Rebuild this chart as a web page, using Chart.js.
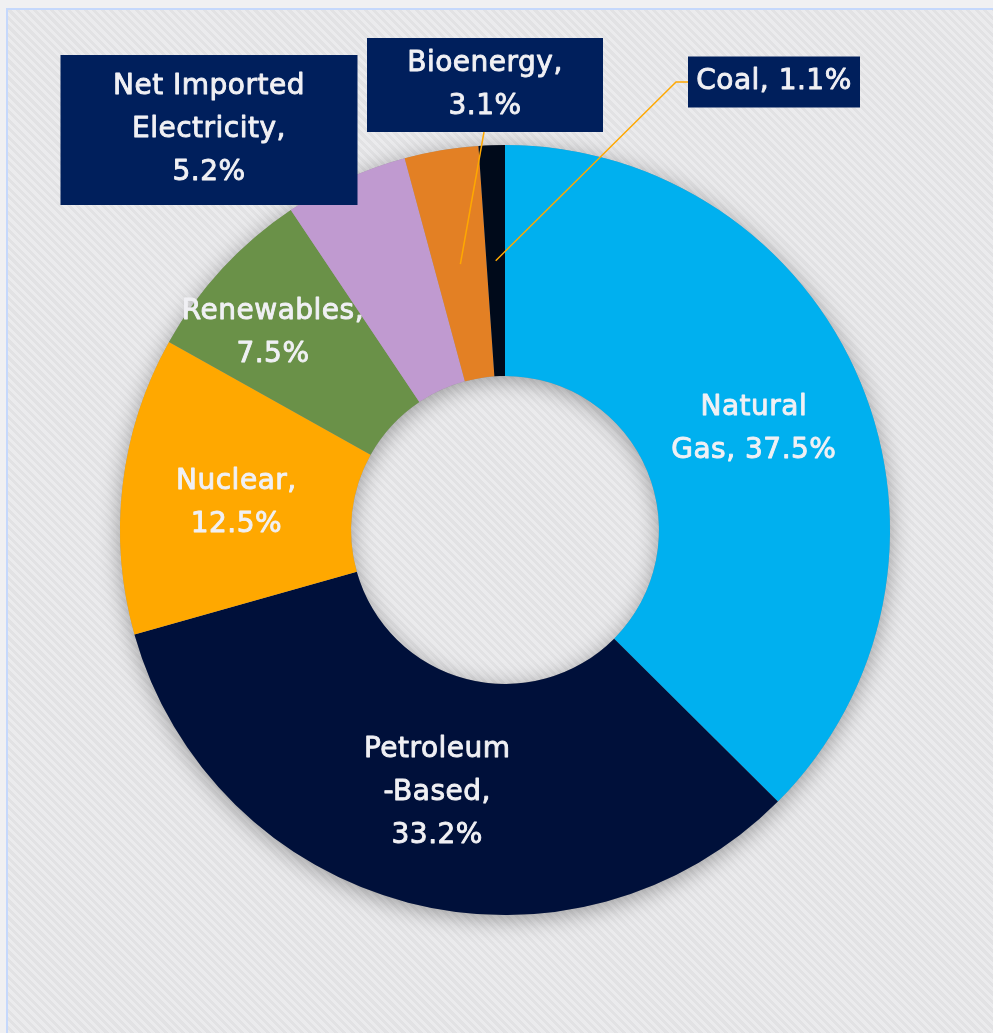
<!DOCTYPE html>
<html>
<head>
<meta charset="utf-8">
<script src="https://cdn.jsdelivr.net/npm/chart.js@4.4.0/dist/chart.umd.min.js"></script>
<style>
  html, body { margin: 0; padding: 0; background: #f0f0f2; overflow: hidden; }
  .panel {
    position: absolute; left: 6px; top: 8px; width: 1100px; height: 1100px;
    border: 2px solid #c5d8fc;
    background: repeating-linear-gradient(45deg, #ebebed 0px, #ebebed 3px, #e2e2e4 3px, #e2e2e4 6px);
  }
  #wrap { position: absolute; left: 0; top: 0; width: 993px; height: 1033px; }
</style>
</head>
<body>
<div class="panel"></div>
<div id="wrap"><canvas id="energyChart"></canvas></div>
<script>
const categories = ['Natural Gas', 'Petroleum-Based', 'Nuclear', 'Renewables', 'Net Imported Electricity', 'Bioenergy', 'Coal'];
const shares = [37.5, 33.2, 12.5, 7.5, 5.2, 3.1, 1.1];
const sliceColors = ['#00b0ef', '#00103a', '#ffa800', '#6a9148', '#c09ad0', '#e38024', '#000a1a'];
// label lines as shown in the picture
const labelLines = [
  ['Natural', 'Gas, 37.5%'],
  ['Petroleum', '-Based,', '33.2%'],
  ['Nuclear,', '12.5%'],
  ['Renewables,', '7.5%'],
  ['Net Imported', 'Electricity,', '5.2%'],
  ['Bioenergy,', '3.1%'],
  ['Coal, 1.1%']
];

const FONT = '28px "DejaVu Sans", sans-serif';
const TEXT = '#f0f0f4';
const LINE_H = 43;

// inside labels: nudge from slice centre; callouts: box relative to chart centre
const inside = { 0: [0, 3], 1: [0, 2], 2: [-1, 5], 3: [-34, -14] };
const callouts = {
  4: { cx: -296, cy: -400, w: 297, h: 150 },
  5: { cx: -20, cy: -445, w: 236, h: 94, leader: [[-21, -398]] },
  6: { cx: 269, cy: -448, w: 172, h: 51, leader: [[183, -448], [171, -448]] }
};

const ringShadow = {
  id: 'ringShadow',
  beforeDatasetsDraw(chart) {
    const arc = chart.getDatasetMeta(0).data[0];
    if (!arc) return;
    const ctx = chart.ctx;
    ctx.save();
    ctx.shadowColor = 'rgba(0,0,0,0.35)';
    ctx.shadowBlur = 22;
    ctx.shadowOffsetY = 4;
    ctx.fillStyle = '#9a9a9a';
    ctx.beginPath();
    ctx.arc(arc.x, arc.y, arc.outerRadius, 0, Math.PI * 2);
    ctx.arc(arc.x, arc.y, arc.innerRadius, 0, Math.PI * 2, true);
    ctx.fill();
    ctx.restore();
  }
};

const sliceLabels = {
  id: 'sliceLabels',
  afterDatasetsDraw(chart) {
    const ctx = chart.ctx;
    const arcs = chart.getDatasetMeta(0).data;
    const cx = arcs[0].x, cy = arcs[0].y;
    ctx.save();
    ctx.font = FONT;
    ctx.letterSpacing = '0.5px';
    ctx.textAlign = 'center';
    ctx.textBaseline = 'middle';
    ctx.lineJoin = 'round';
    arcs.forEach((arc, i) => {
      const lines = labelLines[i];
      let x, y;
      if (inside[i]) {
        const p = arc.getCenterPoint();
        x = p.x + inside[i][0];
        y = p.y + inside[i][1];
      } else {
        const c = callouts[i];
        x = cx + c.cx;
        y = cy + c.cy;
        if (c.leader) {
          const p = arc.getCenterPoint();
          ctx.strokeStyle = '#ffa800';
          ctx.lineWidth = 1.5;
          ctx.beginPath();
          ctx.moveTo(cx + c.leader[0][0], cy + c.leader[0][1]);
          c.leader.slice(1).forEach(pt => ctx.lineTo(cx + pt[0], cy + pt[1]));
          ctx.lineTo(p.x, p.y);
          ctx.stroke();
        }
        ctx.fillStyle = '#001f5c';
        ctx.fillRect(x - c.w / 2, y - c.h / 2, c.w, c.h);
      }
      ctx.fillStyle = TEXT;
      ctx.strokeStyle = TEXT;
      ctx.lineWidth = 0.9;
      const top = y - (lines.length - 1) * LINE_H / 2;
      lines.forEach((t, k) => {
        ctx.fillText(t, x, top + k * LINE_H);
        ctx.strokeText(t, x, top + k * LINE_H);
      });
    });
    ctx.restore();
  }
};

new Chart(document.getElementById('energyChart'), {
  type: 'doughnut',
  data: {
    labels: categories,
    datasets: [{
      data: shares,
      backgroundColor: sliceColors,
      borderWidth: 0,
      hoverOffset: 0
    }]
  },
  options: {
    responsive: true,
    maintainAspectRatio: false,
    animation: false,
    cutout: '40%',
    layout: { padding: { left: 120, top: 145, right: 103, bottom: 118 } },
    plugins: {
      legend: { display: false },
      tooltip: { enabled: false }
    }
  },
  plugins: [ringShadow, sliceLabels]
});
</script>
</body>
</html>
